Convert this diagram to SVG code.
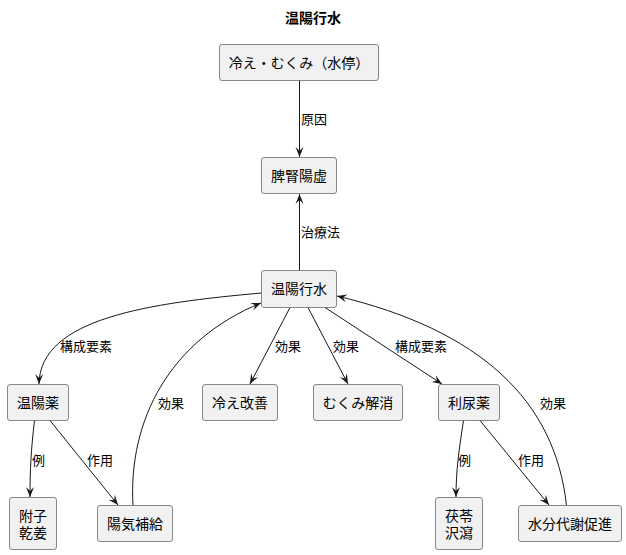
<svg xmlns="http://www.w3.org/2000/svg" width="626" height="555" viewBox="0 0 626 555">
<defs>
<style>
.n rect{fill:#F1F1F1;stroke:#181818;stroke-width:0.5}
.n text{font-family:"Noto Sans CJK JP","Noto Sans",sans-serif;font-size:14px;fill:#000;text-anchor:middle}
.e path{fill:none;stroke:#181818;stroke-width:1}
.l{font-family:"Noto Sans CJK JP","Noto Sans",sans-serif;font-size:13px;fill:#000}
.t{font-family:"Noto Sans CJK JP","Noto Sans",sans-serif;font-size:14px;font-weight:bold;text-anchor:middle}
</style>
<marker id="a" viewBox="0 0 10 10" refX="10" refY="5" markerWidth="10" markerHeight="10" markerUnits="userSpaceOnUse" orient="auto">
<path d="M0,1 L10,5 L0,9 L4,5 Z" fill="#181818"/>
</marker>
</defs>
<rect width="626" height="555" fill="#FFFFFF"/>
<text class="t" x="313" y="23">温陽行水</text>
<g id="edges" class="e">
<path d="M299.5,80.5 L299.5,157" marker-end="url(#a)"/>
<path d="M299.5,270 L299.5,194" marker-end="url(#a)"/>
<path d="M261.5,293 C150,303 40,318 39,384" marker-end="url(#a)"/>
<path d="M133,505.5 C128,420 170,340 261,303" marker-end="url(#a)"/>
<path d="M290,307.5 L250,384" marker-end="url(#a)"/>
<path d="M308,307.5 L348,384" marker-end="url(#a)"/>
<path d="M325,307.5 L442,384" marker-end="url(#a)"/>
<path d="M566.5,505.5 C555,400 480,330 337,296" marker-end="url(#a)"/>
<path d="M34.5,420.5 C31,450 30,470 30,497" marker-end="url(#a)"/>
<path d="M50,420.5 L118,505" marker-end="url(#a)"/>
<path d="M463.5,420.5 C459,450 456,470 456,497" marker-end="url(#a)"/>
<path d="M480,420.5 L549,505" marker-end="url(#a)"/>
</g>
<g id="labels">
<text class="l" x="301" y="124">原因</text>
<text class="l" x="301" y="237">治療法</text>
<text class="l" x="60" y="350.5">構成要素</text>
<text class="l" x="275" y="350.5">効果</text>
<text class="l" x="333" y="350.5">効果</text>
<text class="l" x="395" y="350.5">構成要素</text>
<text class="l" x="158" y="407.5">効果</text>
<text class="l" x="540" y="407.5">効果</text>
<text class="l" x="32" y="464.5">例</text>
<text class="l" x="87" y="464.5">作用</text>
<text class="l" x="458" y="464.5">例</text>
<text class="l" x="518" y="464.5">作用</text>
</g>
<g id="n1" class="n"><rect x="219.5" y="44.5" width="159" height="36" rx="2.5"/><text x="299" y="67.5">冷え・むくみ（水停）</text></g>
<g id="n2" class="n"><rect x="261.5" y="157.5" width="75" height="36" rx="2.5"/><text x="299" y="180.5">脾腎陽虚</text></g>
<g id="n3" class="n"><rect x="261.5" y="270.5" width="75" height="37" rx="2.5"/><text x="299" y="294">温陽行水</text></g>
<g id="n4" class="n"><rect x="7.5" y="384.5" width="61" height="36" rx="2.5"/><text x="38" y="407.5">温陽薬</text></g>
<g id="n5" class="n"><rect x="202.5" y="384.5" width="75" height="36" rx="2.5"/><text x="240" y="407.5">冷え改善</text></g>
<g id="n6" class="n"><rect x="313.5" y="384.5" width="89" height="36" rx="2.5"/><text x="358" y="407.5">むくみ解消</text></g>
<g id="n7" class="n"><rect x="438.5" y="384.5" width="61" height="36" rx="2.5"/><text x="469" y="407.5">利尿薬</text></g>
<g id="n8" class="n"><rect x="9.5" y="497.5" width="47" height="52" rx="2.5"/><text x="33" y="521">附子<tspan x="33" dy="17">乾姜</tspan></text></g>
<g id="n9" class="n"><rect x="97.5" y="505.5" width="75" height="36" rx="2.5"/><text x="135" y="528.5">陽気補給</text></g>
<g id="n10" class="n"><rect x="435.5" y="497.5" width="47" height="52" rx="2.5"/><text x="459" y="521">茯苓<tspan x="459" dy="17">沢瀉</tspan></text></g>
<g id="n11" class="n"><rect x="518.5" y="505.5" width="103" height="36" rx="2.5"/><text x="570" y="528.5">水分代謝促進</text></g>
</svg>
